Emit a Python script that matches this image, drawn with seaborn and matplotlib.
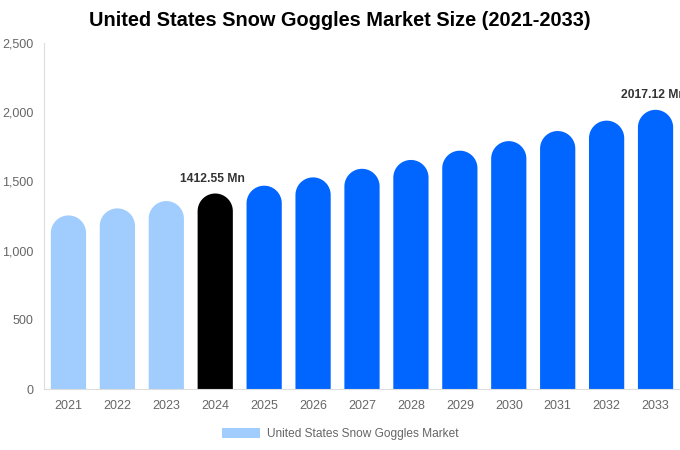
import numpy as np
import pandas as pd
import matplotlib
matplotlib.use("Agg")
import matplotlib.pyplot as plt
from matplotlib.path import Path
from matplotlib.patches import PathPatch, Patch
import seaborn as sns

years = ["2021", "2022", "2023", "2024", "2025", "2026", "2027",
         "2028", "2029", "2030", "2031", "2032", "2033"]
values = [1254, 1305, 1358, 1412.55, 1469, 1529, 1591,
          1655, 1722, 1791, 1864, 1939, 2017.12]
bar_colors = ["#A0CDFD"] * 3 + ["#000000"] + ["#0066FF"] * 9
annotated = {"2024": "1412.55 Mn", "2033": "2017.12 Mn"}
legend_label = "United States Snow Goggles Market"
title = "United States Snow Goggles Market Size (2021-2033)"

sns.set_theme(style="white")
plt.rcParams["font.family"] = ["Liberation Sans", "DejaVu Sans"]

df = pd.DataFrame({"year": years, "value": values})

W, H = 680, 450
fig = plt.figure(figsize=(W / 100, H / 100), dpi=100)
ax = fig.add_axes([44 / W, 1 - 389 / H, (680 - 44) / W, (389 - 43) / H])

sns.barplot(data=df, x="year", y="value", hue="year", palette=bar_colors,
            width=0.72, legend=False, ax=ax, saturation=1)

ax.set_ylim(0, 2500)
ax.set_xlim(-0.5, len(years) - 0.5)
ax.set_yticks([0, 500, 1000, 1500, 2000, 2500])
ax.set_yticklabels(["0", "500", "1,000", "1,500", "2,000", "2,500"])
ax.set_xlabel("")
ax.set_ylabel("")

# Replace rectangles with round-topped bars
fig.canvas.draw()
px_x = ax.transData.transform((1, 0))[0] - ax.transData.transform((0, 0))[0]
px_y = ax.transData.transform((0, 1))[1] - ax.transData.transform((0, 0))[1]
for p in list(ax.patches):
    x0 = p.get_x()
    w = p.get_width()
    h = p.get_height()
    col = p.get_facecolor()
    rx = w / 2
    ry = rx * px_x / px_y
    xc = x0 + rx
    t = np.linspace(np.pi, 0, 40)
    verts = [(x0, 0), (x0, h - ry)]
    verts += [(xc + rx * np.cos(a), h - ry + ry * np.sin(a)) for a in t]
    verts += [(x0 + w, 0), (x0, 0)]
    codes = [Path.MOVETO] + [Path.LINETO] * (len(verts) - 2) + [Path.CLOSEPOLY]
    ax.add_patch(PathPatch(Path(verts, codes), facecolor=col, edgecolor="none"))
    p.remove()

for i, y in enumerate(years):
    if y in annotated:
        ax.text(i - 0.05, values[i] + 62, annotated[y], ha="center", va="bottom",
                fontsize=8.7, fontweight="bold", color="#333333", clip_on=False)

for s in ["top", "right"]:
    ax.spines[s].set_visible(False)
ax.spines["left"].set_color("#dddddd")
ax.spines["bottom"].set_color("#dddddd")
ax.spines["left"].set_linewidth(0.8)
ax.spines["bottom"].set_linewidth(0.8)
ax.tick_params(axis="both", length=0, labelsize=9, colors="#666666", pad=8)
ax.tick_params(axis="y", pad=7.5)
ax.grid(False)

fig.text(340 / W, 1 - 21 / H, title, ha="center", va="center",
         fontsize=14.4, fontweight="bold", color="#000000")

handle = Patch(facecolor="#A0CDFD", edgecolor="none")
fig.legend([handle], [legend_label], loc="center", bbox_to_anchor=(340 / W, 1 - 434 / H),
           frameon=False, fontsize=8.6, labelcolor="#666666", handlelength=3.2,
           handleheight=1.0, handletextpad=0.55)

fig.savefig("out.png", dpi=100)
